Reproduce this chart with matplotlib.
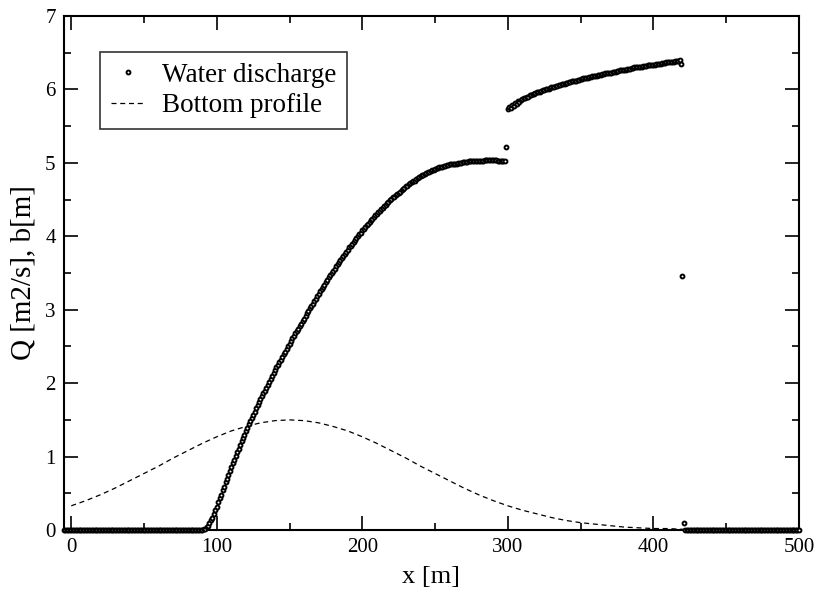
import numpy as np
import matplotlib
matplotlib.use("Agg")
import matplotlib.pyplot as plt
from matplotlib.ticker import MultipleLocator

plt.rcParams['font.family'] = ['Liberation Serif', 'DejaVu Serif']

# water discharge, one value per metre
x_dry_left = np.arange(-5, 90)
q_dry_left = [0.0] * len(x_dry_left)

x_jump1 = np.arange(90, 299)
q_jump1 = [
    0.00, 0.01, 0.02, 0.04, 0.06, 0.09, 0.13, 0.17, 0.22, 0.27,   # 90-99
    0.32, 0.38, 0.43, 0.48, 0.54, 0.59, 0.65, 0.70, 0.75, 0.81,   # 100
    0.86, 0.91, 0.96, 1.01, 1.06, 1.11, 1.16, 1.21, 1.26, 1.30,   # 110
    1.35, 1.39, 1.44, 1.48, 1.53, 1.57, 1.61, 1.66, 1.70, 1.74,   # 120
    1.78, 1.82, 1.86, 1.90, 1.94, 1.98, 2.02, 2.06, 2.10, 2.14,   # 130
    2.18, 2.22, 2.25, 2.29, 2.32, 2.36, 2.40, 2.43, 2.47, 2.50,   # 140
    2.54, 2.57, 2.61, 2.64, 2.68, 2.71, 2.74, 2.78, 2.81, 2.85,   # 150
    2.88, 2.91, 2.95, 2.98, 3.02, 3.05, 3.08, 3.12, 3.15, 3.19,   # 160
    3.22, 3.25, 3.28, 3.31, 3.34, 3.38, 3.41, 3.44, 3.47, 3.50,   # 170
    3.53, 3.56, 3.59, 3.62, 3.65, 3.68, 3.70, 3.73, 3.76, 3.79,   # 180
    3.82, 3.85, 3.87, 3.90, 3.92, 3.95, 3.98, 4.00, 4.03, 4.05,   # 190
    4.08, 4.10, 4.13, 4.15, 4.17, 4.20, 4.22, 4.24, 4.26, 4.29,   # 200
    4.31, 4.33, 4.35, 4.37, 4.39, 4.41, 4.43, 4.45, 4.47, 4.49,   # 210
    4.51, 4.53, 4.54, 4.56, 4.58, 4.59, 4.61, 4.63, 4.65, 4.66,   # 220
    4.68, 4.69, 4.71, 4.72, 4.74, 4.75, 4.76, 4.78, 4.79, 4.81,   # 230
    4.82, 4.83, 4.84, 4.85, 4.86, 4.87, 4.88, 4.89, 4.90, 4.91,   # 240
    4.92, 4.93, 4.93, 4.94, 4.94, 4.95, 4.96, 4.96, 4.97, 4.97,   # 250
    4.98, 4.98, 4.98, 4.99, 4.99, 4.99, 5.00, 5.00, 5.00, 5.01,   # 260
    5.01, 5.01, 5.01, 5.02, 5.02, 5.02, 5.02, 5.02, 5.03, 5.03,   # 270
    5.03, 5.03, 5.03, 5.03, 5.04, 5.04, 5.04, 5.04, 5.04, 5.04,   # 280
    5.04, 5.04, 5.04, 5.03, 5.03, 5.03, 5.03, 5.02, 5.02,         # 290-298
]

x_front = [299]
q_front = [5.21]

x_jump2 = np.arange(300, 420)
q_jump2 = [
    5.74, 5.76, 5.75, 5.79, 5.78, 5.81, 5.80, 5.84, 5.83, 5.86,   # 300
    5.87, 5.88, 5.88, 5.90, 5.90, 5.92, 5.92, 5.94, 5.94, 5.95,   # 310
    5.96, 5.97, 5.97, 5.98, 5.99, 5.99, 6.00, 6.01, 6.01, 6.02,   # 320
    6.03, 6.03, 6.04, 6.05, 6.05, 6.06, 6.06, 6.07, 6.08, 6.08,   # 330
    6.09, 6.09, 6.10, 6.10, 6.11, 6.11, 6.12, 6.12, 6.13, 6.13,   # 340
    6.14, 6.14, 6.15, 6.15, 6.16, 6.16, 6.17, 6.17, 6.18, 6.18,   # 350
    6.19, 6.19, 6.20, 6.20, 6.20, 6.21, 6.21, 6.22, 6.22, 6.22,   # 360
    6.23, 6.23, 6.24, 6.24, 6.24, 6.25, 6.25, 6.26, 6.26, 6.26,   # 370
    6.27, 6.27, 6.28, 6.28, 6.28, 6.29, 6.29, 6.30, 6.30, 6.30,   # 380
    6.31, 6.31, 6.31, 6.32, 6.32, 6.32, 6.33, 6.33, 6.33, 6.34,   # 390
    6.34, 6.34, 6.35, 6.35, 6.35, 6.35, 6.36, 6.36, 6.36, 6.37,   # 400
    6.37, 6.37, 6.38, 6.38, 6.38, 6.39, 6.39, 6.39, 6.40, 6.35,   # 410-419
]

x_drop = [420, 421]
q_drop = [3.46, 0.09]

x_dry_right = np.arange(422, 501)
q_dry_right = [0.0] * len(x_dry_right)

# bottom profile every 10 m
x_bed = np.arange(0, 510, 10)
b_bed = [
    0.33, 0.40, 0.48, 0.57, 0.67, 0.77, 0.87, 0.98, 1.08, 1.18,
    1.27, 1.35, 1.41, 1.46, 1.49, 1.50, 1.49, 1.46, 1.41, 1.35,
    1.27, 1.18, 1.08, 0.98, 0.87, 0.77, 0.67, 0.57, 0.48, 0.40,
    0.33, 0.27, 0.22, 0.17, 0.13, 0.10, 0.08, 0.06, 0.04, 0.03,
    0.02, 0.02, 0.01, 0.01, 0.00, 0.00, 0.00, 0.00, 0.00, 0.00,
    0.00,
]

x_q = np.concatenate([x_dry_left, x_jump1, x_front, x_jump2, x_drop, x_dry_right])
q = np.concatenate([q_dry_left, q_jump1, q_front, q_jump2, q_drop, q_dry_right])

fig = plt.figure(figsize=(8.16, 5.95), dpi=100)
ax = fig.add_axes([0.0784, 0.1092, 0.9006, 0.8638])

ax.plot(x_q, q, linestyle='none', marker='o', markersize=2.8,
        markerfacecolor='white', markeredgecolor='black', markeredgewidth=1.4,
        clip_on=False, label='Water discharge', zorder=3)
ax.plot(x_bed, b_bed, color='black', linestyle=(0, (4, 3)), linewidth=0.9,
        label='Bottom profile', zorder=2)

ax.set_xlim(-5, 500)
ax.set_ylim(0, 7)
ax.xaxis.set_major_locator(MultipleLocator(100))
ax.xaxis.set_minor_locator(MultipleLocator(50))
ax.yaxis.set_major_locator(MultipleLocator(1))
ax.yaxis.set_minor_locator(MultipleLocator(0.5))
ax.tick_params(which='both', direction='in', top=True, right=True,
               labelsize=15, width=1.2)
ax.tick_params(which='major', length=10, pad=6)
ax.tick_params(which='minor', length=5)
for s in ax.spines.values():
    s.set_linewidth(1.5)

ax.set_xlabel('x [m]', fontsize=19, labelpad=6)
ax.set_ylabel('Q [m2/s], b[m]', fontsize=21, labelpad=6)

leg = ax.legend(loc='upper left', bbox_to_anchor=(0.049, 0.930), fontsize=19.5,
                frameon=True, fancybox=False, edgecolor='black',
                handlelength=1.25, handletextpad=0.65, borderpad=0.4,
                labelspacing=0.2, borderaxespad=0, markerscale=1.0)
leg.get_frame().set_linewidth(1.2)

fig.savefig('out.png', dpi=100)
